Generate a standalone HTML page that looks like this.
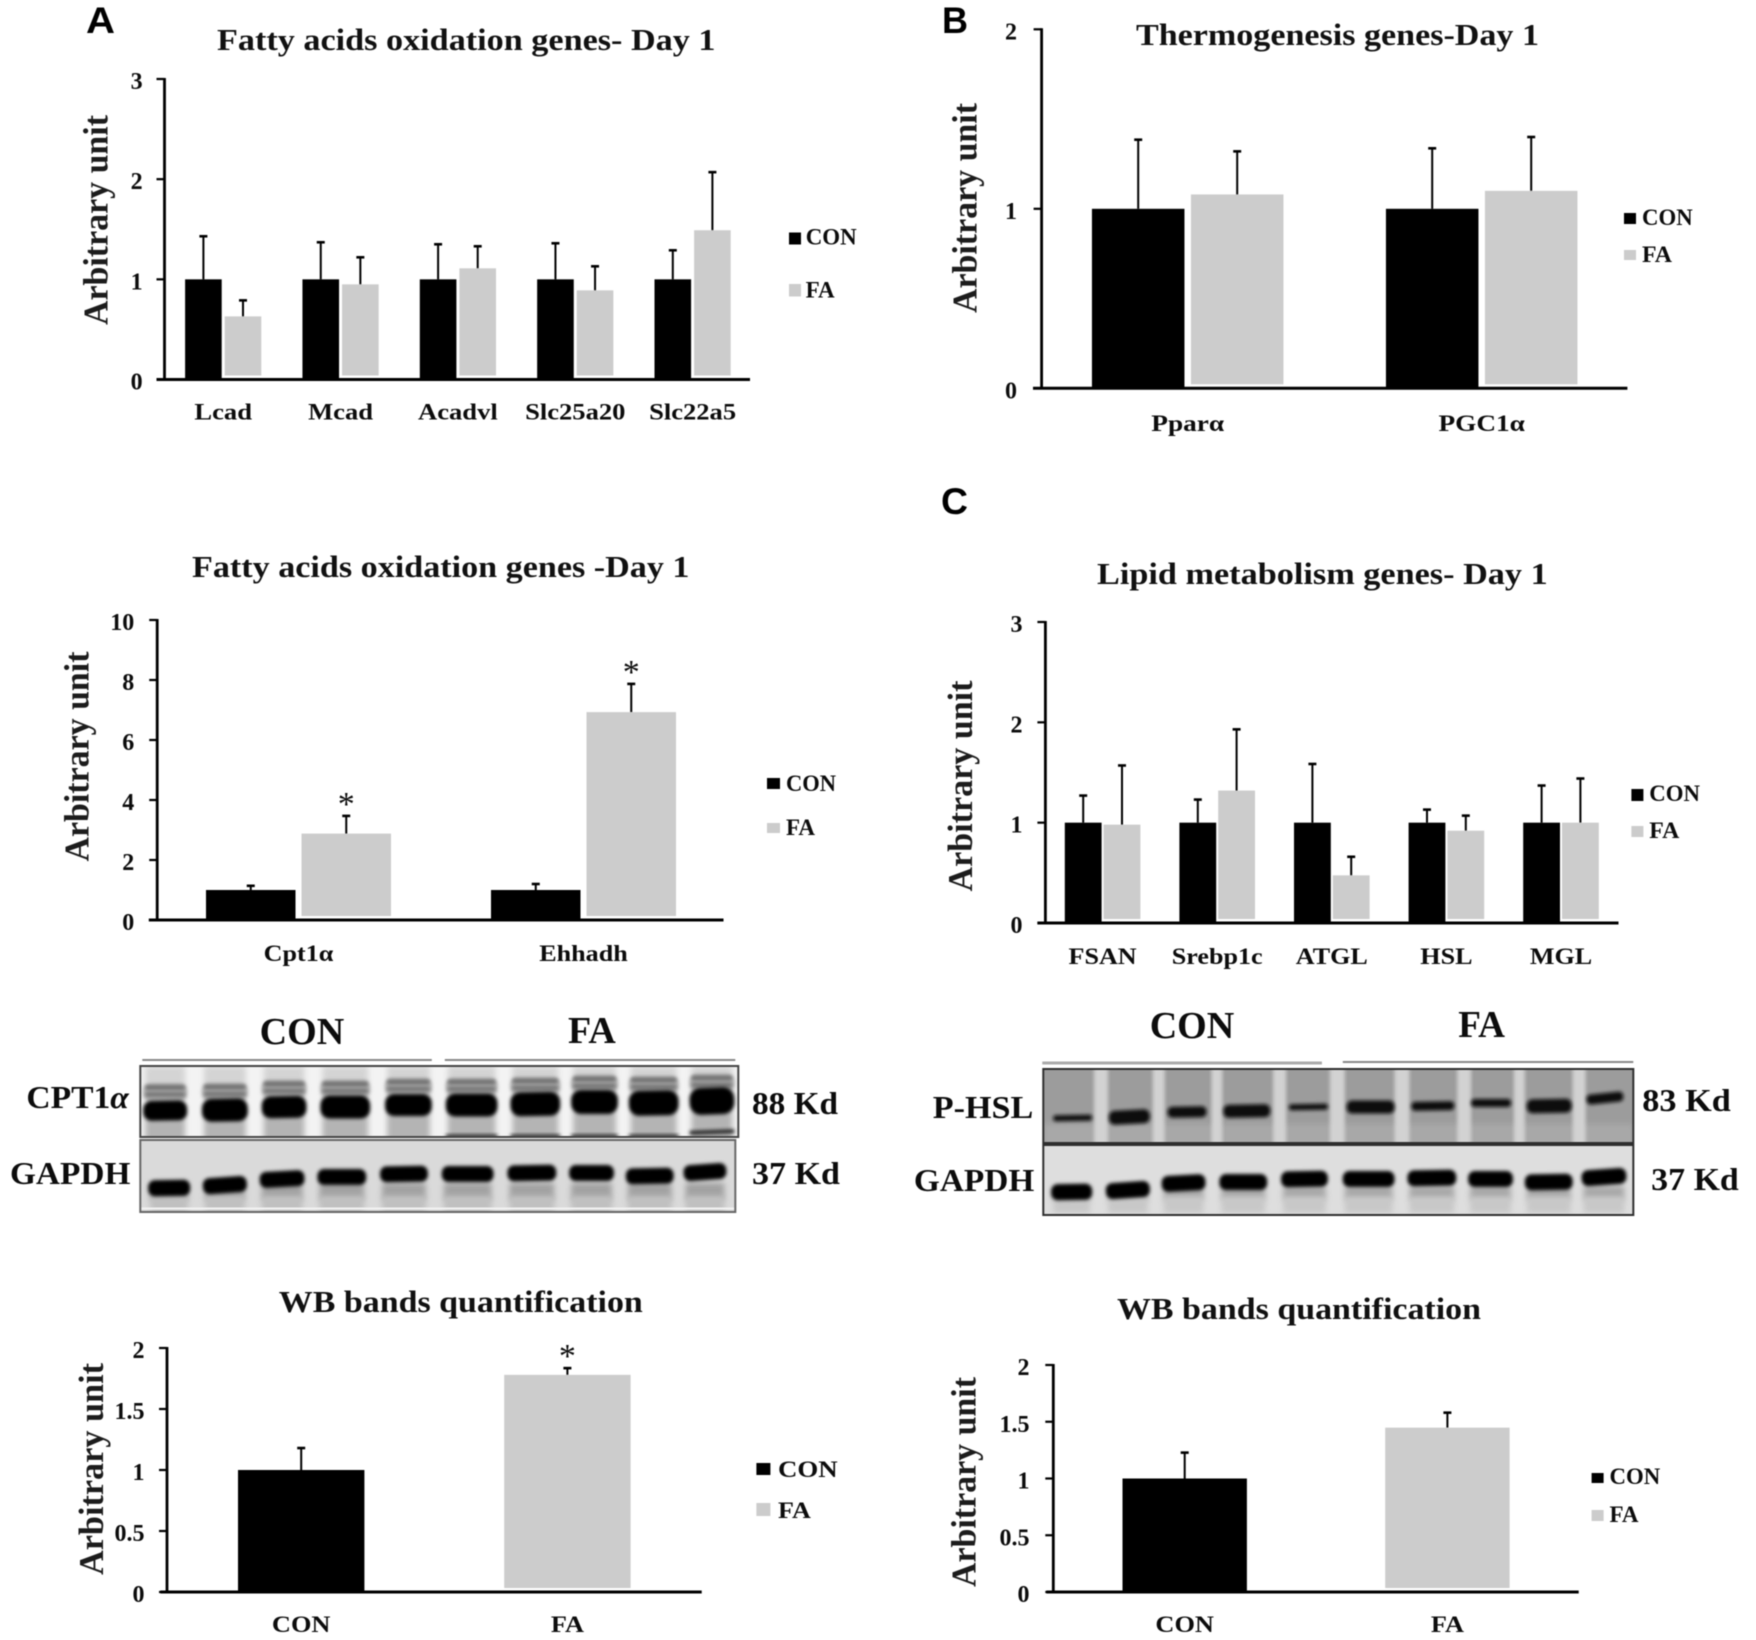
<!DOCTYPE html>
<html lang="en">
<head>
<meta charset="utf-8">
<title>Gene expression and western blot figure</title>
<style>
html,body{margin:0;padding:0;background:#fff;width:1756px;height:1640px;overflow:hidden}
#figure{display:block;filter:blur(0.6px)}
text{font-family:"Liberation Serif","DejaVu Serif",serif;font-weight:700;fill:#0c0c0c}
.panel{font-family:"Liberation Sans","DejaVu Sans",sans-serif;font-size:37px;fill:#000}
.title{font-size:31px;fill:#111}
.ytitle{font-size:35px;fill:#1c1c1c;text-anchor:middle}
.legend{font-size:23px}
.blot-head{font-size:38px}
.blot-label{font-size:32px}
.tick{font-size:24px;text-anchor:end}
.cat{font-size:23.5px;text-anchor:middle}
.star{font-size:34px;font-weight:400;text-anchor:middle}
</style>
</head>
<body>
<svg id="figure" width="1756" height="1640" viewBox="0 0 1756 1640" xmlns="http://www.w3.org/2000/svg">
<defs>
<filter id="soft" x="-20%" y="-80%" width="140%" height="260%"><feGaussianBlur stdDeviation="1.8"/></filter>
<filter id="softer" x="-30%" y="-40%" width="160%" height="180%"><feGaussianBlur stdDeviation="3"/></filter>
</defs>

<rect x="0" y="0" width="1756" height="1640" fill="#fff"/>

<text class="panel" x="86" y="33" textLength="29" lengthAdjust="spacingAndGlyphs">A</text>
<text class="panel" x="942" y="33" textLength="26" lengthAdjust="spacingAndGlyphs">B</text>
<text class="panel" x="941" y="514" textLength="27" lengthAdjust="spacingAndGlyphs">C</text>

<!-- chart titles -->
<text class="title" x="217" y="50" textLength="498.5" lengthAdjust="spacingAndGlyphs">Fatty acids oxidation genes- Day 1</text>
<text class="title" x="1136" y="45" textLength="403" lengthAdjust="spacingAndGlyphs">Thermogenesis genes-Day 1</text>
<text class="title" x="192" y="577" textLength="497.5" lengthAdjust="spacingAndGlyphs">Fatty acids oxidation genes -Day 1</text>
<text class="title" x="1097" y="584" textLength="450.7" lengthAdjust="spacingAndGlyphs">Lipid metabolism genes- Day 1</text>
<text class="title" x="278.8" y="1312" textLength="364" lengthAdjust="spacingAndGlyphs">WB bands quantification</text>
<text class="title" x="1117" y="1319" textLength="364" lengthAdjust="spacingAndGlyphs">WB bands quantification</text>

<!-- y axis titles -->
<text class="ytitle" transform="translate(107.6,220) rotate(-90)" textLength="210" lengthAdjust="spacingAndGlyphs">Arbitrary unit</text>
<text class="ytitle" transform="translate(976.5,208) rotate(-90)" textLength="210" lengthAdjust="spacingAndGlyphs">Arbitrary unit</text>
<text class="ytitle" transform="translate(88.6,756.5) rotate(-90)" textLength="210" lengthAdjust="spacingAndGlyphs">Arbitrary unit</text>
<text class="ytitle" transform="translate(972.2,786) rotate(-90)" textLength="211" lengthAdjust="spacingAndGlyphs">Arbitrary unit</text>
<text class="ytitle" transform="translate(103.2,1469) rotate(-90)" textLength="212" lengthAdjust="spacingAndGlyphs">Arbitrary unit</text>
<text class="ytitle" transform="translate(975.7,1482) rotate(-90)" textLength="210" lengthAdjust="spacingAndGlyphs">Arbitrary unit</text>

<!-- legends -->
<g>
<rect x="789" y="232.5" width="12" height="12" fill="#000"/>
<text class="legend" x="805.7" y="244.5" textLength="51" lengthAdjust="spacingAndGlyphs">CON</text>
<rect x="789" y="284" width="12" height="12.5" fill="#ccc"/>
<text class="legend" x="805.7" y="297.5" textLength="29" lengthAdjust="spacingAndGlyphs">FA</text>
</g>
<g>
<rect x="1624" y="213" width="12" height="11" fill="#000"/>
<text class="legend" x="1642" y="225" textLength="50.7" lengthAdjust="spacingAndGlyphs">CON</text>
<rect x="1624" y="250" width="12" height="10" fill="#ccc"/>
<text class="legend" x="1642" y="262" textLength="30" lengthAdjust="spacingAndGlyphs">FA</text>
</g>
<g>
<rect x="767" y="778" width="13" height="11" fill="#000"/>
<text class="legend" x="786" y="791" textLength="50" lengthAdjust="spacingAndGlyphs">CON</text>
<rect x="767" y="823" width="13" height="10" fill="#ccc"/>
<text class="legend" x="786" y="835" textLength="29" lengthAdjust="spacingAndGlyphs">FA</text>
</g>
<g>
<rect x="1631.4" y="789" width="12" height="12" fill="#000"/>
<text class="legend" x="1649.3" y="801" textLength="50.7" lengthAdjust="spacingAndGlyphs">CON</text>
<rect x="1631.4" y="826" width="12" height="11" fill="#ccc"/>
<text class="legend" x="1649.3" y="838" textLength="30" lengthAdjust="spacingAndGlyphs">FA</text>
</g>
<g>
<rect x="756.4" y="1463" width="14" height="12" fill="#000"/>
<text class="legend" x="778" y="1477" textLength="59.7" lengthAdjust="spacingAndGlyphs">CON</text>
<rect x="756.4" y="1503" width="14" height="13" fill="#ccc"/>
<text class="legend" x="778" y="1518" textLength="32.8" lengthAdjust="spacingAndGlyphs">FA</text>
</g>
<g>
<rect x="1591.6" y="1473" width="12" height="10" fill="#000"/>
<text class="legend" x="1609.5" y="1484" textLength="50.7" lengthAdjust="spacingAndGlyphs">CON</text>
<rect x="1591.6" y="1510" width="12" height="11" fill="#ccc"/>
<text class="legend" x="1609.5" y="1522" textLength="29" lengthAdjust="spacingAndGlyphs">FA</text>
</g>

<!-- left western blot annotations -->
<g>
<text class="blot-head" x="259.7" y="1044" textLength="84.6" lengthAdjust="spacingAndGlyphs">CON</text>
<text class="blot-head" x="568" y="1043" textLength="47.8" lengthAdjust="spacingAndGlyphs">FA</text>
<line x1="142.3" y1="1060" x2="431.8" y2="1060" stroke="#888" stroke-width="2"/>
<line x1="444.8" y1="1060" x2="735.3" y2="1060" stroke="#888" stroke-width="2"/>
<text class="blot-label" x="26.4" y="1108" textLength="102.5" lengthAdjust="spacingAndGlyphs">CPT1<tspan font-style="italic">α</tspan></text>
<text class="blot-label" x="10" y="1184" textLength="120.4" lengthAdjust="spacingAndGlyphs">GAPDH</text>
<text class="blot-label" x="752" y="1114" textLength="86" lengthAdjust="spacingAndGlyphs">88 Kd</text>
<text class="blot-label" x="752" y="1184" textLength="88" lengthAdjust="spacingAndGlyphs">37 Kd</text>
</g>

<!-- right western blot annotations -->
<g>
<text class="blot-head" x="1149.7" y="1038" textLength="84.6" lengthAdjust="spacingAndGlyphs">CON</text>
<text class="blot-head" x="1458.2" y="1037" textLength="46.8" lengthAdjust="spacingAndGlyphs">FA</text>
<line x1="1042.3" y1="1063" x2="1321.9" y2="1063" stroke="#aaa" stroke-width="3"/>
<line x1="1342.8" y1="1062" x2="1633.3" y2="1062" stroke="#888" stroke-width="2"/>
<text class="blot-label" x="932.8" y="1118" textLength="100.5" lengthAdjust="spacingAndGlyphs">P-HSL</text>
<text class="blot-label" x="913.9" y="1191" textLength="120.4" lengthAdjust="spacingAndGlyphs">GAPDH</text>
<text class="blot-label" x="1642.3" y="1111" textLength="88.5" lengthAdjust="spacingAndGlyphs">83 Kd</text>
<text class="blot-label" x="1651.2" y="1190" textLength="87.6" lengthAdjust="spacingAndGlyphs">37 Kd</text>
</g>

<g id="blots-left" transform="scale(0.995,1)"></g>
<g id="blots-right" transform="translate(900,0) scale(0.995,1) translate(-900,0)"></g>
<g id="charts"></g>
</svg>

<script>
// ---- Chart A1: fatty acid oxidation genes (upper) ----
const a1Categories = ['Lcad', 'Mcad', 'Acadvl', 'Slc25a20', 'Slc22a5'];
const a1Con = [1, 1, 1, 1, 1];
const a1Fa = [0.63, 0.95, 1.11, 0.89, 1.49];
const a1ConErr = [0.43, 0.37, 0.35, 0.36, 0.29];
const a1FaErr = [0.16, 0.27, 0.22, 0.24, 0.58];
const a1Ticks = [0, 1, 2, 3];

// ---- Chart B: thermogenesis genes ----
const bCategories = ['Pparα', 'PGC1α'];
const bCon = [1, 1];
const bFa = [1.08, 1.1];
const bConErr = [0.385, 0.337];
const bFaErr = [0.24, 0.3];
const bTicks = [0, 1, 2];

// ---- Chart A2: fatty acid oxidation genes (lower) ----
const a2Categories = ['Cpt1α', 'Ehhadh'];
const a2Con = [1, 1];
const a2Fa = [2.88, 6.93];
const a2ConErr = [0.14, 0.2];
const a2FaErr = [0.59, 0.94];
const a2FaSignificant = [true, true];
const a2Ticks = [0, 2, 4, 6, 8, 10];

// ---- Chart C: lipid metabolism genes ----
const cCategories = ['FSAN', 'Srebp1c', 'ATGL', 'HSL', 'MGL'];
const cCon = [1, 1, 1, 1, 1];
const cFa = [0.98, 1.32, 0.475, 0.92, 1];
const cConErr = [0.27, 0.23, 0.585, 0.13, 0.37];
const cFaErr = [0.59, 0.61, 0.185, 0.15, 0.44];
const cTicks = [0, 1, 2, 3];

// ---- Chart A3: CPT1a western blot quantification ----
const a3Categories = ['CON', 'FA'];
const a3Values = [1, 1.78];
const a3Err = [0.18, 0.055];
const a3Significant = [false, true];
const a3Ticks = [0, 0.5, 1, 1.5, 2];

// ---- Chart C3: P-HSL western blot quantification ----
const c3Categories = ['CON', 'FA'];
const c3Values = [1, 1.448];
const c3Err = [0.228, 0.132];
const c3Significant = [false, false];
const c3Ticks = [0, 0.5, 1, 1.5, 2];

const SVG_NS = 'http://www.w3.org/2000/svg';
const chartsRoot = document.getElementById('charts');
const blotsLeft = document.getElementById('blots-left');
const blotsRight = document.getElementById('blots-right');

function svgEl(tag, parent, attrs) {
  const el = document.createElementNS(SVG_NS, tag);
  for (const k in attrs) el.setAttribute(k, attrs[k]);
  parent.appendChild(el);
  return el;
}

function drawAxes(g, L, ticks, yScale) {
  const yAxis = svgEl('line', g, {x1: L.axisX, x2: L.axisX, y1: L.yTop - 1, y2: L.yBase, stroke: '#000', 'stroke-width': 2.8});
  
  
  const xAxis = svgEl('line', g, {x1: L.baseL, x2: L.baseR, y1: L.yBase, y2: L.yBase, stroke: '#000', 'stroke-width': 3});
  
  
  ticks.forEach(function (t) {
    const mark = svgEl('line', g, {x1: L.axisX - 8, x2: L.axisX, y1: yScale(t), y2: yScale(t), stroke: '#000', 'stroke-width': 2.2});
    
    
    const label = svgEl('text', g, {class: 'tick', x: L.tickRight, y: yScale(t) + 10});
    
    
    label.textContent = String(t);
  });
}

function drawCategoryLabel(g, L, text, x) {
  const label = svgEl('text', g, {class: 'cat', x: x, y: L.labelY});
  
  
  label.textContent = text;
  label.setAttribute('lengthAdjust', 'spacingAndGlyphs');
  label.setAttribute('textLength', (label.getComputedTextLength() * L.labelStretch).toFixed(1));
}

function drawError(g, cx, y0, y1) {
  const stem = svgEl('line', g, {x1: cx, x2: cx, y1: y0, y2: y1, stroke: '#000', 'stroke-width': 2});
  
  
  const cap = svgEl('line', g, {x1: cx - 4, x2: cx + 4, y1: y1, y2: y1, stroke: '#000', 'stroke-width': 2.6});
  
  
}

function drawStar(g, cx, errTopY) {
  const star = svgEl('text', g, {class: 'star', x: cx, y: errTopY - 1});
  
  
  star.textContent = '*';
}

// Grouped CON / FA bars per category
function groupedChart(name, L, categories, con, conErr, fa, faErr, ticks, significant) {
  const g = svgEl('g', chartsRoot, {});
  
  
  const maxV = ticks[ticks.length - 1];
  const yScale = function (v) { return L.yBase - (v / maxV) * (L.yBase - L.yTop); };
  const xScale = function (i) { return L.c0 + i * L.step; };
  categories.forEach(function (cat, i) {
    const cx = xScale(i);
    const conX = cx - L.gap / 2 - L.barW;
    const faX = cx + L.gap / 2;
    drawError(g, faX + L.barW / 2, yScale(fa[i]), yScale(fa[i] + faErr[i]));
    drawError(g, conX + L.barW / 2, yScale(con[i]), yScale(con[i] + conErr[i]));
    const conBar = svgEl('rect', g, {x: conX, y: yScale(con[i]), width: L.barW, height: L.yBase - yScale(con[i]), fill: '#000'});
    
    
    const faBar = svgEl('rect', g, {x: faX, y: yScale(fa[i]), width: L.barW, height: Math.max(0, L.yBase - 4 - yScale(fa[i])), fill: '#ccc'});
    
    
    if (significant && significant[i]) drawStar(g, faX + L.barW / 2, yScale(fa[i] + faErr[i]));
    drawCategoryLabel(g, L, cat, cx);
  });
  drawAxes(g, L, ticks, yScale);
}

// One bar per category, coloured by group
function singleChart(name, L, categories, values, errs, ticks, significant) {
  const g = svgEl('g', chartsRoot, {});
  
  
  const maxV = ticks[ticks.length - 1];
  const yScale = function (v) { return L.yBase - (v / maxV) * (L.yBase - L.yTop); };
  const xScale = function (i) { return L.c0 + i * L.step; };
  categories.forEach(function (cat, i) {
    const cx = xScale(i);
    drawError(g, cx, yScale(values[i]), yScale(values[i] + errs[i]));
    const bottom = i === 0 ? L.yBase : L.yBase - 4;
    const bar = svgEl('rect', g, {x: cx - L.barW / 2, y: yScale(values[i]), width: L.barW, height: Math.max(0, bottom - yScale(values[i])), fill: i === 0 ? '#000' : '#ccc'});
    
    
    if (significant[i]) drawStar(g, cx, yScale(values[i] + errs[i]));
    drawCategoryLabel(g, L, cat, cx);
  });
  drawAxes(g, L, ticks, yScale);
}

groupedChart('chart-fao-upper',
  {axisX: 164.5, yTop: 79, yBase: 379.5, baseL: 156.5, baseR: 750, c0: 223.2, step: 117.35, barW: 36.6, gap: 3, labelY: 419.5, tickRight: 142.6, labelStretch: 1.13},
  a1Categories, a1Con, a1ConErr, a1Fa, a1FaErr, a1Ticks, null);
groupedChart('chart-thermogenesis',
  {axisX: 1041.6, yTop: 29.3, yBase: 388.3, baseL: 1033, baseR: 1627.4, c0: 1187.7, step: 294, barW: 92.5, gap: 6.5, labelY: 431, tickRight: 1017, labelStretch: 1.16},
  bCategories, bCon, bConErr, bFa, bFaErr, bTicks, null);
groupedChart('chart-fao-lower',
  {axisX: 157.2, yTop: 620, yBase: 920, baseL: 148.8, baseR: 723.5, c0: 298.5, step: 285, barW: 89.5, gap: 6, labelY: 961, tickRight: 134.3, labelStretch: 1.11},
  a2Categories, a2Con, a2ConErr, a2Fa, a2FaErr, a2Ticks, a2FaSignificant);
groupedChart('chart-lipid',
  {axisX: 1045.4, yTop: 622, yBase: 923, baseL: 1037.4, baseR: 1618.5, c0: 1102.6, step: 114.6, barW: 36.8, gap: 2, labelY: 964, tickRight: 1022.5, labelStretch: 1.11},
  cCategories, cCon, cConErr, cFa, cFaErr, cTicks, null);
singleChart('chart-wb-cpt1a',
  {axisX: 167, yTop: 1348, yBase: 1592, baseL: 160.4, baseR: 701.7, c0: 301.2, step: 266.2, barW: 126.4, labelY: 1632, tickRight: 144.5, labelStretch: 1.12},
  a3Categories, a3Values, a3Err, a3Ticks, a3Significant);
singleChart('chart-wb-p-hsl',
  {axisX: 1053.3, yTop: 1365, yBase: 1592, baseL: 1046.4, baseR: 1578.7, c0: 1184.7, step: 262.7, barW: 124.4, labelY: 1632, tickRight: 1029.5, labelStretch: 1.12},
  c3Categories, c3Values, c3Err, c3Ticks, c3Significant);

// ---- Western blot artwork (a photograph in the source, approximated with soft shapes) ----
let clipCount = 0;
function blotFrame(root, x, y, w, h, bg, stroke) {
  const g = svgEl('g', root, {});
  
  
  clipCount += 1;
  const clipId = 'blot-clip-' + clipCount;
  const cp = svgEl('clipPath', g, {id: clipId});
  svgEl('rect', cp, {x: x, y: y, width: w, height: h});
  const bgRect = svgEl('rect', g, {x: x, y: y, width: w, height: h, fill: bg});
  
  
  const inner = svgEl('g', g, {'clip-path': 'url(#' + clipId + ')'});
  g.inner = inner;
  g.frame = {x: x, y: y, w: w, h: h, stroke: stroke};
  return g;
}
function closeFrame(g) {
  const f = g.frame;
  const border = svgEl('rect', g, {x: f.x, y: f.y, width: f.w, height: f.h, fill: 'none', stroke: f.stroke, 'stroke-width': 2});
  
  
}
function smear(g, x0, x1, y0, y1, fill) {
  const r = svgEl('rect', g.inner, {x: x0, y: y0, width: x1 - x0, height: y1 - y0, fill: fill, filter: 'url(#softer)'});
  
  
}
function band(g, x0, x1, yc, h, tilt, fill) {
  const cx = (x0 + x1) / 2;
  const r = svgEl('rect', g.inner, {x: x0, y: yc - h / 2, width: x1 - x0, height: h, rx: h / 2.4, fill: fill || '#030303', filter: 'url(#soft)', transform: 'rotate(' + (tilt || 0) + ' ' + cx + ' ' + yc + ')'});
  
  
}

// Left: CPT1a
const bl1 = blotFrame(blotsLeft, 141, 1066, 601, 71, '#f3f3f3', '#444');
[[144,188],[203,249],[263,308],[322,372],[387,434],[448,500],[513,563],[574,621],[632,682],[693,738]].forEach(function (l) {
  smear(bl1, l[0] + 2, l[1] - 2, 1066, 1100, '#d4d4d4');
  smear(bl1, l[0] + 2, l[1] - 2, 1110, 1142, '#b4b4b4');
});
[[144,188,1110.5,20,-1],[203,249,1110,23,-1],[263,308,1107,22,-1],[322,372,1107,23,0],[387,434,1105,22,0],[448,500,1105,23,0],[513,563,1104,24,-1],[574,621,1102,24,0],[632,682,1103,25,-1],[693,738,1101,27,-2]].forEach(function (b) {
  band(bl1, b[0], b[1], b[2] - 18, 18, 0, '#b0b0b0');
  band(bl1, b[0] + 2, b[1] - 2, b[2] - 23, 5, 0, '#6f6f6f');
  band(bl1, b[0] + 2, b[1] - 2, b[2] - 16, 5, 0, '#767676');
  band(bl1, b[0], b[1], b[2], b[3], b[4]);
});
[[448,500],[513,563],[574,621],[632,682]].forEach(function (l) { band(bl1, l[0], l[1], 1136, 3, 0, '#222'); });
band(bl1, 693, 738, 1132, 4, -2, '#222');
closeFrame(bl1);

// Left: GAPDH
const bl2 = blotFrame(blotsLeft, 141, 1140, 598, 72, '#dadada', '#666');
[[149,191],[204,248],[261,306],[319,368],[382,430],[444,496],[510,559],[572,617],[629,677],[687,730]].forEach(function (l) {
  smear(bl2, l[0] + 2, l[1] - 2, 1183, 1200, '#a2a2a2');
  smear(bl2, l[0] + 2, l[1] - 2, 1196, 1212, '#c0c0c0');
});
const bl2Strip = svgEl('rect', bl2.inner, {x: 141, y: 1207.5, width: 598, height: 2, fill: '#f2f2f2'});


[[149,191,1188,-1],[204,248,1185,-4],[261,306,1179,-3],[319,368,1177,0],[382,430,1174,-1],[444,496,1174,0],[510,559,1173,-1],[572,617,1173,0],[629,677,1176,-1],[687,730,1172,-4]].forEach(function (b) {
  band(bl2, b[0], b[1], b[2], 16, b[3]);
});
closeFrame(bl2);

// Right: P-HSL
const br1 = blotFrame(blotsRight, 1044, 1069, 593, 74, '#9c9c9c', '#2e2e2e');
smear(br1, 1044, 1637, 1124, 1146, '#a8a8a8');
[[1095,1109],[1154,1166],[1213,1224],[1275,1288],[1332,1347],[1397,1412],[1460,1474],[1517,1528],[1576,1589]].forEach(function (l) {
  const gapRect = svgEl('rect', br1.inner, {x: l[0], y: 1060, width: l[1] - l[0], height: 90, fill: '#d2d2d2', filter: 'url(#soft)'});
  
  
});
[[1054,1093,1118,6,-1],[1110,1151,1117,14,-3],[1169,1208,1112,11,-1],[1225,1272,1111,13,-1],[1291,1330,1107,6,-1],[1349,1397,1107,13,0],[1414,1457,1106,9,-1],[1474,1514,1103,8,0],[1530,1575,1106,14,-1],[1590,1627,1098,10,-6]].forEach(function (b) {
  band(br1, b[0], b[1], b[2], b[3], b[4], '#0a0a0a');
});
closeFrame(br1);

// Right: GAPDH
const br2 = blotFrame(blotsRight, 1044, 1145, 593, 70, '#dedede', '#2e2e2e');
[[1052,1093],[1107,1151],[1163,1207],[1221,1269],[1283,1330],[1345,1397],[1410,1459],[1471,1516],[1528,1576],[1585,1630]].forEach(function (l) {
  smear(br2, l[0] + 2, l[1] - 2, 1186, 1200, '#a8a8a8');
  smear(br2, l[0] + 2, l[1] - 2, 1197, 1213, '#c8c8c8');
});
[[1052,1093,1192,-1],[1107,1151,1190,-4],[1163,1207,1183,-3],[1221,1269,1182,0],[1283,1330,1179,-1],[1345,1397,1179,0],[1410,1459,1178,-1],[1471,1516,1179,0],[1528,1576,1182,-1],[1585,1630,1177,-4]].forEach(function (b) {
  band(br2, b[0], b[1], b[2], 16, b[3]);
});
closeFrame(br2);
</script>
</body>
</html>
